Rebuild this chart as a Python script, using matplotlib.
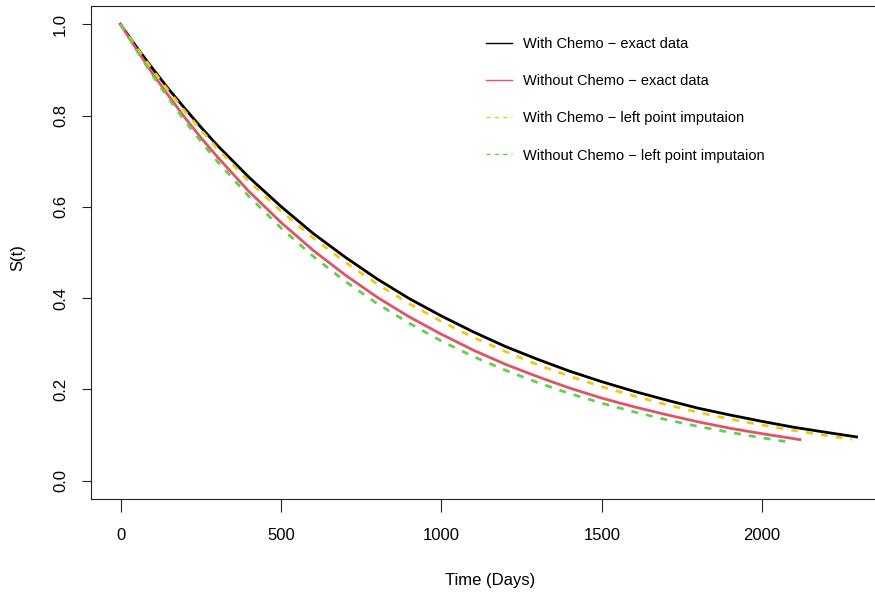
import matplotlib
matplotlib.use("Agg")
import matplotlib.pyplot as plt
from matplotlib.lines import Line2D

# Survival estimates S(t) by time (days)
t_chemo_exact = [0, 50, 100, 150, 200, 250, 300, 400, 500, 600, 700, 800, 900, 1000, 1100,
                 1200, 1300, 1400, 1500, 1600, 1700, 1800, 1900, 2000, 2100, 2200, 2294]
s_chemo_exact = [1.000, 0.950, 0.903, 0.858, 0.816, 0.775, 0.736, 0.665, 0.601, 0.542,
                 0.490, 0.442, 0.399, 0.361, 0.326, 0.294, 0.266, 0.240, 0.217, 0.196,
                 0.177, 0.159, 0.144, 0.130, 0.117, 0.106, 0.096]

t_nochemo_exact = [0, 50, 100, 150, 200, 250, 300, 400, 500, 600, 700, 800, 900, 1000, 1100,
                   1200, 1300, 1400, 1500, 1600, 1700, 1800, 1900, 2000, 2100, 2118]
s_nochemo_exact = [1.000, 0.945, 0.892, 0.843, 0.796, 0.752, 0.711, 0.634, 0.566, 0.505,
                   0.451, 0.402, 0.359, 0.321, 0.286, 0.255, 0.228, 0.203, 0.181, 0.162,
                   0.145, 0.129, 0.115, 0.103, 0.092, 0.090]

t_chemo_left = [0, 50, 100, 150, 200, 250, 300, 400, 500, 600, 700, 800, 900, 1000, 1100,
                1200, 1300, 1400, 1500, 1600, 1700, 1800, 1900, 2000, 2100, 2200, 2280]
s_chemo_left = [1.000, 0.949, 0.900, 0.854, 0.810, 0.769, 0.729, 0.656, 0.591, 0.532,
                0.479, 0.431, 0.388, 0.349, 0.314, 0.283, 0.254, 0.229, 0.206, 0.186,
                0.167, 0.150, 0.135, 0.122, 0.110, 0.099, 0.091]

t_nochemo_left = [0, 50, 100, 150, 200, 250, 300, 400, 500, 600, 700, 800, 900, 1000, 1100,
                  1200, 1300, 1400, 1500, 1600, 1700, 1800, 1900, 2000, 2090]
s_nochemo_left = [1.000, 0.943, 0.888, 0.837, 0.789, 0.744, 0.701, 0.623, 0.554, 0.492,
                  0.437, 0.388, 0.345, 0.306, 0.272, 0.242, 0.215, 0.191, 0.170, 0.151,
                  0.134, 0.119, 0.106, 0.094, 0.084]

legend_labels = ["With Chemo \u2212 exact data",
                 "Without Chemo \u2212 exact data",
                 "With Chemo \u2212 left point imputaion",
                 "Without Chemo \u2212 left point imputaion"]
x_ticks = [0, 500, 1000, 1500, 2000]
y_ticks = [0.0, 0.2, 0.4, 0.6, 0.8, 1.0]

BLACK = "#000000"
RED = "#DF536B"
YELLOW = "#F5C710"
GREEN = "#61D04F"

plt.rcParams["font.family"] = ["Liberation Sans", "DejaVu Sans"]

W, H = 875, 596
fig = plt.figure(figsize=(W / 100, H / 100), dpi=100)
# plotting region in pixels: left 91, top 6, bottom 499, right edge runs past the canvas
ax = fig.add_axes([91 / W, 1 - 499 / H, 795 / W, 493 / H])

ax.plot(t_chemo_exact, s_chemo_exact, color=BLACK, lw=2.0)
ax.plot(t_nochemo_exact, s_nochemo_exact, color=RED, lw=2.0)
ax.plot(t_chemo_left, s_chemo_left, color=YELLOW, lw=2.0, dashes=(2.5, 2.9))
ax.plot(t_nochemo_left, s_nochemo_left, color=GREEN, lw=2.0, dashes=(2.5, 2.9))

ax.set_xlim(-92, 2386)
ax.set_ylim(-0.04, 1.04)
ax.set_xticks(x_ticks)
ax.set_xticklabels([str(v) for v in x_ticks])
ax.set_yticks(y_ticks)
ax.set_yticklabels([f"{v:.1f}" for v in y_ticks])

for sp in ax.spines.values():
    sp.set_linewidth(0.8)
    sp.set_color("#222222")
ax.tick_params(axis="x", length=9, width=0.8, pad=12, labelsize=12, color="#222222")
ax.tick_params(axis="y", length=6.5, width=0.8, pad=10, labelsize=12, color="#222222")
for lab in ax.get_yticklabels():
    lab.set_rotation(90)
    lab.set_va("center")
    lab.set_ha("right")

fig.text(18 / W, 1 - 258 / H, "S(t)", rotation=90, ha="center", va="center", fontsize=12)
fig.text(490 / W, 1 - 580 / H, "Time (Days)", ha="center", va="center", fontsize=12)

handles = [
    Line2D([], [], color=BLACK, lw=1.0),
    Line2D([], [], color=RED, lw=1.0),
    Line2D([], [], color=YELLOW, lw=1.0, dashes=(3, 3)),
    Line2D([], [], color=GREEN, lw=1.0, dashes=(3, 3)),
]
leg = ax.legend(handles, legend_labels, loc="upper left",
                bbox_to_anchor=(486 / W, 1 - 37 / H), bbox_transform=fig.transFigure,
                frameon=False, fontsize=10.5, handlelength=1.78, handletextpad=0.75,
                labelspacing=1.59, borderpad=0, borderaxespad=0)

fig.savefig("out.png", dpi=100)
